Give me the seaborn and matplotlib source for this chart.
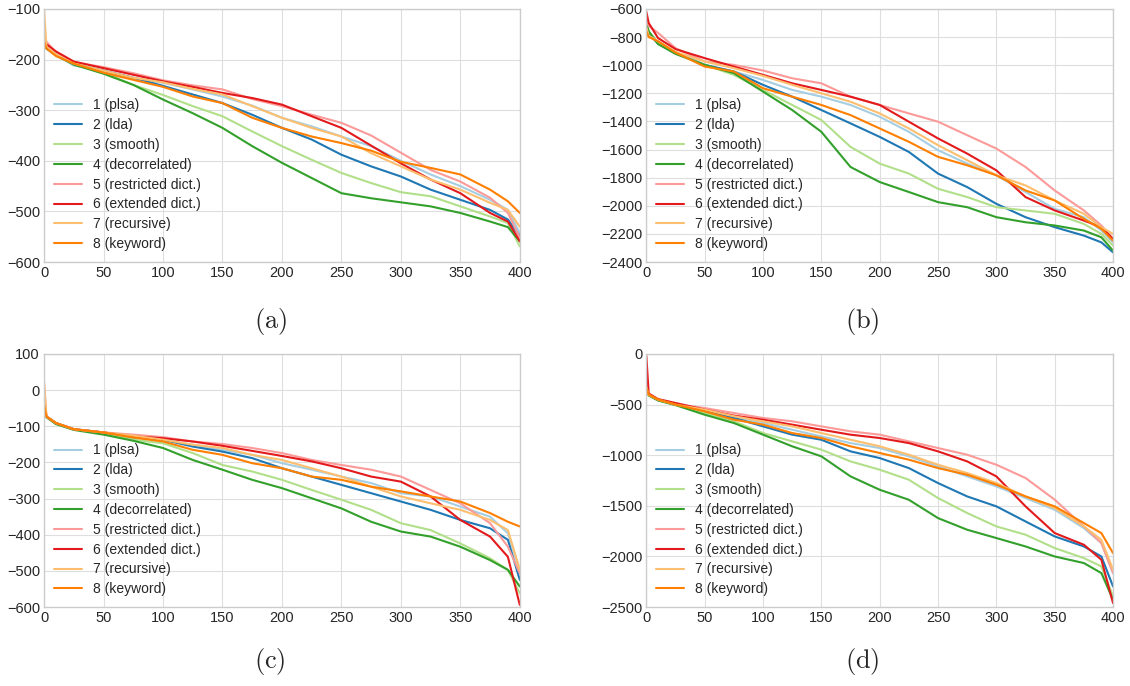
import pandas as pd
import matplotlib
matplotlib.use('Agg')
import matplotlib.pyplot as plt
import seaborn as sns

# document rank positions where values were read
x = [0, 2, 10, 25, 50, 75, 100, 125, 150, 175, 200, 225, 250, 275, 300, 325, 350, 375, 390, 400]

labels = ['1 (plsa)', '2 (lda)', '3 (smooth)', '4 (decorrelated)',
          '5 (restricted dict.)', '6 (extended dict.)', '7 (recursive)', '8 (keyword)']

# panel (a)
a_plsa = [-165, -178, -190, -212, -222, -236, -246, -259, -273, -291, -315, -332, -352, -371, -400, -427, -450, -477, -497, -543]
a_lda = [-170, -178, -190, -208, -222, -236, -252, -269, -286, -309, -335, -358, -388, -411, -431, -457, -477, -497, -516, -549]
a_smooth = [-160, -175, -190, -208, -226, -250, -270, -292, -312, -342, -371, -398, -424, -444, -462, -470, -490, -510, -523, -569]
a_decor = [-170, -178, -192, -210, -228, -250, -279, -306, -335, -371, -404, -434, -464, -474, -482, -490, -503, -520, -531, -559]
a_restr = [-150, -165, -185, -205, -215, -227, -241, -251, -259, -278, -292, -309, -325, -350, -384, -418, -441, -473, -503, -552]
a_ext = [-160, -170, -184, -204, -217, -230, -243, -254, -266, -276, -289, -312, -335, -370, -405, -437, -464, -503, -520, -559]
a_recur = [-100, -175, -190, -208, -222, -236, -245, -258, -269, -292, -315, -335, -352, -385, -411, -437, -457, -483, -497, -530]
a_key = [-165, -178, -193, -208, -226, -240, -254, -273, -286, -315, -335, -352, -365, -380, -402, -414, -427, -457, -480, -503]

# panel (b)
b_plsa = [-700, -760, -840, -914, -998, -1045, -1105, -1176, -1224, -1283, -1367, -1474, -1605, -1700, -1783, -1902, -2022, -2081, -2176, -2260]
b_lda = [-720, -780, -845, -910, -998, -1045, -1140, -1224, -1319, -1414, -1510, -1617, -1771, -1867, -1986, -2081, -2152, -2212, -2260, -2331]
b_smooth = [-690, -760, -840, -914, -998, -1069, -1176, -1283, -1390, -1581, -1700, -1771, -1879, -1938, -2010, -2033, -2057, -2129, -2200, -2283]
b_decor = [-700, -760, -850, -920, -998, -1057, -1188, -1319, -1474, -1724, -1831, -1902, -1974, -2010, -2081, -2117, -2140, -2176, -2224, -2319]
b_restr = [-680, -720, -770, -879, -974, -998, -1038, -1093, -1129, -1224, -1283, -1343, -1402, -1498, -1593, -1724, -1891, -2033, -2140, -2236]
b_ext = [-620, -700, -807, -886, -950, -1010, -1069, -1129, -1176, -1224, -1283, -1402, -1521, -1629, -1748, -1938, -2033, -2105, -2152, -2236]
b_recur = [-730, -790, -830, -905, -974, -1021, -1076, -1140, -1200, -1260, -1343, -1450, -1569, -1676, -1783, -1855, -1962, -2057, -2152, -2200]
b_key = [-760, -800, -830, -910, -1010, -1045, -1164, -1224, -1283, -1355, -1450, -1545, -1652, -1712, -1783, -1891, -1962, -2093, -2164, -2248]

# panel (c)
c_plsa = [-40, -73, -91, -108, -117, -128, -139, -151, -165, -179, -202, -220, -239, -257, -285, -294, -322, -350, -396, -497]
c_lda = [-40, -73, -91, -108, -117, -131, -137, -156, -170, -188, -216, -239, -262, -285, -308, -331, -359, -382, -414, -525]
c_smooth = [-40, -73, -91, -108, -119, -137, -147, -174, -207, -225, -248, -276, -303, -331, -368, -387, -424, -465, -497, -562]
c_decor = [-40, -75, -94, -110, -123, -140, -160, -193, -220, -248, -271, -299, -327, -364, -391, -405, -433, -470, -497, -543]
c_restr = [20, -73, -91, -108, -117, -123, -130, -142, -149, -160, -174, -193, -207, -220, -239, -276, -313, -368, -433, -507]
c_ext = [-40, -73, -91, -108, -117, -128, -133, -142, -154, -168, -182, -197, -216, -239, -253, -294, -359, -405, -461, -594]
c_recur = [20, -73, -91, -108, -117, -126, -137, -151, -160, -179, -193, -216, -239, -267, -294, -313, -331, -359, -387, -497]
c_key = [-40, -73, -91, -108, -117, -131, -142, -165, -179, -202, -216, -239, -248, -267, -280, -294, -308, -340, -364, -377]

# panel (d)
d_plsa = [-300, -402, -451, -500, -567, -632, -682, -748, -814, -880, -929, -1011, -1110, -1209, -1308, -1423, -1538, -1720, -1868, -2164]
d_lda = [-320, -402, -451, -500, -567, -632, -715, -797, -847, -962, -1028, -1127, -1275, -1407, -1505, -1654, -1802, -1901, -2000, -2296]
d_smooth = [-340, -402, -451, -500, -583, -665, -781, -863, -945, -1061, -1143, -1242, -1423, -1571, -1703, -1785, -1917, -2016, -2098, -2395]
d_decor = [-330, -410, -460, -505, -600, -682, -797, -912, -1011, -1209, -1341, -1440, -1621, -1736, -1818, -1901, -2000, -2065, -2164, -2428]
d_restr = [-300, -402, -451, -495, -534, -583, -632, -665, -715, -764, -797, -863, -929, -995, -1094, -1225, -1439, -1703, -1868, -2164]
d_ext = [-20, -390, -445, -484, -550, -609, -649, -698, -748, -797, -830, -880, -962, -1061, -1209, -1505, -1769, -1884, -2032, -2461]
d_recur = [-330, -402, -451, -500, -550, -615, -665, -715, -781, -847, -912, -995, -1094, -1176, -1275, -1407, -1522, -1703, -1835, -2131]
d_key = [-330, -402, -451, -500, -567, -649, -698, -781, -830, -912, -978, -1044, -1127, -1193, -1291, -1407, -1505, -1670, -1769, -1967]

panels = [
    ('(a)', [a_plsa, a_lda, a_smooth, a_decor, a_restr, a_ext, a_recur, a_key], (-600, -100), 100),
    ('(b)', [b_plsa, b_lda, b_smooth, b_decor, b_restr, b_ext, b_recur, b_key], (-2400, -600), 200),
    ('(c)', [c_plsa, c_lda, c_smooth, c_decor, c_restr, c_ext, c_recur, c_key], (-600, 100), 100),
    ('(d)', [d_plsa, d_lda, d_smooth, d_decor, d_restr, d_ext, d_recur, d_key], (-2500, 0), 500),
]

sns.set_style('whitegrid', {'axes.edgecolor': '.8', 'grid.color': '.87'})
plt.rcParams['font.family'] = ['Liberation Sans', 'DejaVu Sans']
plt.rcParams['mathtext.fontset'] = 'cm'
plt.rcParams['text.color'] = '.15'
plt.rcParams['xtick.color'] = '.15'
plt.rcParams['ytick.color'] = '.15'

palette = sns.color_palette('Paired', 8)

fig = plt.figure(figsize=(11.3, 6.86), dpi=100)
boxes = [
    [0.039, 0.618, 0.421, 0.369],
    [0.572, 0.618, 0.413, 0.369],
    [0.039, 0.115, 0.421, 0.369],
    [0.572, 0.115, 0.413, 0.369],
]
captions = [(0.239, 0.532), (0.763, 0.532), (0.239, 0.035), (0.763, 0.035)]

for (tag, series, ylim, ystep), box, cap in zip(panels, boxes, captions):
    ax = fig.add_axes(box)
    rows = []
    for lab, vals in zip(labels, series):
        for xi, v in zip(x, vals):
            rows.append({'doc': xi, 'loglik': v, 'model': lab})
    df = pd.DataFrame(rows)
    sns.lineplot(data=df, x='doc', y='loglik', hue='model', hue_order=labels,
                 palette=palette, linewidth=1.5, ax=ax, legend=True)
    ax.set_xlim(0, 400)
    ax.set_ylim(*ylim)
    ax.set_xticks(range(0, 401, 50))
    ax.set_yticks(range(ylim[0], ylim[1] + 1, ystep))
    ax.tick_params(labelsize=10.5, length=0, pad=3)
    ax.set_xlabel('')
    ax.set_ylabel('')
    for s in ax.spines.values():
        s.set_linewidth(1.0)
    ax.legend(loc='center left', bbox_to_anchor=(0.0, 0.345), frameon=False,
              fontsize=10, borderaxespad=0.3, handlelength=2.0, labelspacing=0.42)
    fig.text(cap[0], cap[1], r'$\mathrm{' + tag + '}$', fontsize=19,
             ha='center', va='center')

plt.savefig('out.png', dpi=100)
plt.close()
